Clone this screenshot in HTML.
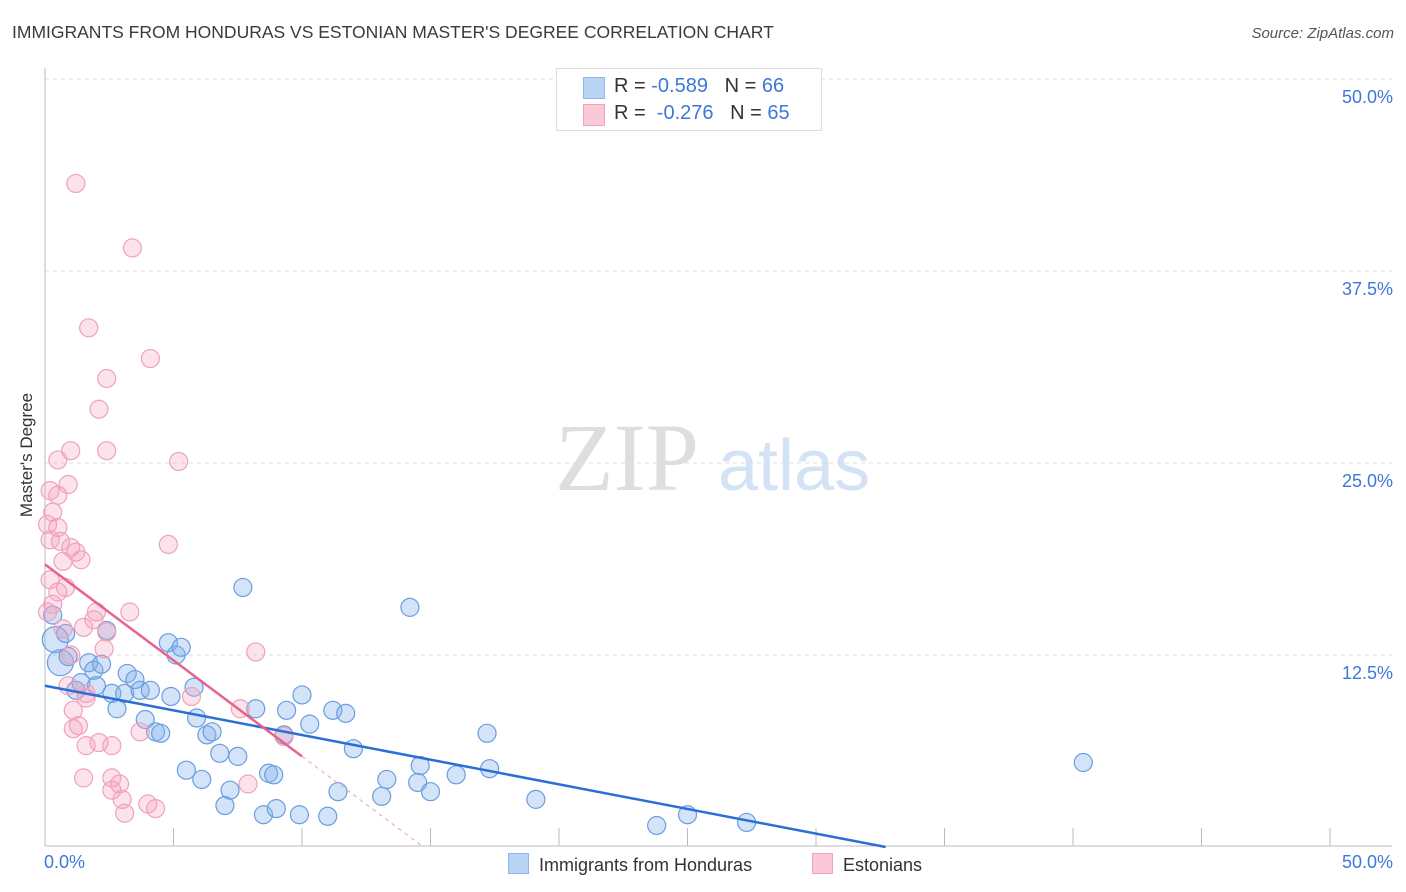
<!DOCTYPE html>
<html><head><meta charset="utf-8">
<style>
body{margin:0;background:#fff;font-family:"Liberation Sans",sans-serif;}
#wrap{position:relative;width:1406px;height:892px;overflow:hidden;}
.t{position:absolute;white-space:nowrap;}
</style></head>
<body>
<div id="wrap">
<div class="t" style="left:12px;top:22px;font-size:17.5px;color:#3a3a3a;">IMMIGRANTS FROM HONDURAS VS ESTONIAN MASTER'S DEGREE CORRELATION CHART</div>
<div class="t" style="right:12px;top:25px;font-size:15px;color:#555;font-style:italic;">Source: ZipAtlas.com</div>
<svg id="svg" width="1406" height="892" style="position:absolute;left:0;top:0"></svg>
<div class="t" style="left:556px;top:68px;width:264px;height:61px;border:1px solid #ddd;background:#fff;">
  <div style="position:absolute;left:26px;top:8px;width:20px;height:20px;background:#b9d3f5;border:1px solid #8fb4e8;"></div>
  <div style="position:absolute;left:26px;top:35px;width:20px;height:20px;background:#fbc8d8;border:1px solid #f0a3bc;"></div>
  <div class="t" style="left:57px;top:6px;font-size:20px;color:#333;">R = <span style="color:#3d78d8">-0.589</span>&nbsp;&nbsp;&nbsp;N = <span style="color:#3d78d8">66</span></div>
  <div class="t" style="left:57px;top:33px;font-size:20px;color:#333;">R = &nbsp;<span style="color:#3d78d8">-0.276</span>&nbsp;&nbsp;&nbsp;N = <span style="color:#3d78d8">65</span></div>
</div>
<div class="t" style="left:27px;top:455px;transform:translate(-50%,-50%) rotate(-90deg);font-size:17px;color:#333;">Master's Degree</div>
<div class="t" style="left:44px;top:852px;font-size:18px;color:#3d78d8;">0.0%</div>
<div class="t" style="right:13px;top:852px;font-size:18px;color:#3d78d8;">50.0%</div>
<div class="t" style="left:508px;top:853px;font-size:18px;color:#333;"><span style="display:inline-block;width:19px;height:19px;background:#b9d3f5;border:1px solid #8fb4e8;vertical-align:-3px;margin-right:10px"></span>Immigrants from Honduras</div>
<div class="t" style="left:812px;top:853px;font-size:18px;color:#333;"><span style="display:inline-block;width:19px;height:19px;background:#fbc8d8;border:1px solid #f0a3bc;vertical-align:-3px;margin-right:10px"></span>Estonians</div>
</div>
<script>
const yTicks=[12.5,25,37.5,50];
const yTickLabels=["12.5%","25.0%","37.5%","50.0%"];
const xTicks=[0,5,10,15,20,25,30,35,40,45,50];
const blueX=[7.7,14.2,40.4,0.4,0.6,0.8,0.9,1.2,1.4,1.7,1.9,2.0,2.2,2.4,2.6,2.8,3.1,3.2,3.5,3.7,3.9,4.1,4.3,4.5,4.8,4.9,5.1,5.3,5.5,5.8,5.9,6.1,6.3,6.5,6.8,7.0,7.2,7.5,8.2,8.5,8.7,8.9,9.0,9.4,9.3,9.9,10.0,10.3,11.0,11.2,11.4,11.7,12.0,13.1,13.3,14.5,14.6,15.0,16.0,17.2,17.3,19.1,23.8,25.0,27.3,0.3];
const blueY=[16.9,15.6,5.5,13.5,12.0,13.9,12.4,10.2,10.7,12.0,11.5,10.5,11.9,14.1,10.0,9.0,10.0,11.3,10.9,10.2,8.3,10.2,7.5,7.4,13.3,9.8,12.5,13.0,5.0,10.4,8.4,4.4,7.3,7.5,6.1,2.7,3.7,5.9,9.0,2.1,4.8,4.7,2.5,8.9,7.3,2.1,9.9,8.0,2.0,8.9,3.6,8.7,6.4,3.3,4.4,4.2,5.3,3.6,4.7,7.4,5.1,3.1,1.4,2.1,1.6,15.1];
const pinkX=[1.2,3.4,1.7,4.1,2.4,2.1,1.0,2.4,5.2,0.5,0.9,0.5,0.2,0.3,0.1,0.5,0.2,0.6,1.0,1.2,1.4,0.7,4.8,0.2,0.5,0.8,0.3,0.1,2.0,3.3,1.9,1.5,0.7,2.4,1.0,2.3,8.2,0.9,1.6,5.7,1.1,1.1,1.3,2.1,1.6,2.6,3.7,7.6,1.5,2.6,2.9,2.6,3.0,4.0,4.3,3.1,7.9,9.3,1.6];
const pinkY=[43.2,39.0,33.8,31.8,30.5,28.5,25.8,25.8,25.1,25.2,23.6,22.9,23.2,21.8,21.0,20.8,20.0,19.9,19.5,19.2,18.7,18.6,19.7,17.4,16.6,16.9,15.8,15.3,15.3,15.3,14.8,14.3,14.2,14.0,12.5,12.9,12.7,10.5,10.0,9.8,8.9,7.7,7.9,6.8,6.6,6.6,7.5,9.0,4.5,4.5,4.1,3.7,3.1,2.8,2.5,2.2,4.1,7.2,9.7];
const bigBlue=[3,4];
const blueTrend=[10.5,-0.321];
const pinkTrend=[18.4,-1.25];
const pinkSolidEnd=10;

const X0=45,X1=1330,Y0=847,Y1=79;
const sx=v=>X0+(X1-X0)*v/50;
const sy=v=>Y0-(Y0-Y1)*v/50;
const svg=document.getElementById('svg');
const NS='http://www.w3.org/2000/svg';
function mk(tag,attrs){const e=document.createElementNS(NS,tag);for(const k in attrs)e.setAttribute(k,attrs[k]);svg.appendChild(e);return e;}

// watermark
let wm=mk('text',{x:555,y:490,'font-size':96,'font-family':'Liberation Serif, serif',fill:'#dedede'});
wm.textContent='ZIP';


let wm2=mk('text',{x:718,y:490,'font-size':72,'font-family':'Liberation Sans, sans-serif',fill:'#d3e2f5'});
wm2.textContent='atlas';



yTicks.forEach((v,i)=>{
  const g=mk('line',{x1:X0,x2:1392,y1:sy(v),y2:sy(v),stroke:'#ddd','stroke-dasharray':'4,4'});
  
  
  const t=mk('text',{x:1393,y:sy(v)+24,'text-anchor':'end','font-size':18,fill:'#3d78d8','font-family':'Liberation Sans, sans-serif'});
  t.textContent=yTickLabels[i];
  
  
});
let ax=mk('line',{x1:X0,x2:X0,y1:68,y2:846,stroke:'#bbb'});


let bx=mk('line',{x1:X0,x2:1392,y1:846,y2:846,stroke:'#bbb'});


xTicks.forEach(v=>{
  const t=mk('line',{x1:sx(v),x2:sx(v),y1:828,y2:846,stroke:'#bbb'});
  
  
});

blueX.forEach((x,i)=>{
  const c=mk('circle',{cx:sx(x),cy:sy(blueY[i]),r:bigBlue.includes(i)?13:9,fill:'rgba(130,175,235,0.35)',stroke:'#6a9de0','stroke-width':1.2});
  
  
});
pinkX.forEach((x,i)=>{
  const c=mk('circle',{cx:sx(x),cy:sy(pinkY[i]),r:9,fill:'rgba(245,160,190,0.3)',stroke:'#eea2bb','stroke-width':1.2});
  
  
});

const bEnd=-blueTrend[0]/blueTrend[1];
let bl=mk('line',{x1:sx(0),y1:sy(blueTrend[0]),x2:sx(bEnd),y2:sy(0),stroke:'#2a6fd6','stroke-width':2.5});


const pEnd=-pinkTrend[0]/pinkTrend[1];
let pl=mk('line',{x1:sx(0),y1:sy(pinkTrend[0]),x2:sx(pinkSolidEnd),y2:sy(pinkTrend[0]+pinkTrend[1]*pinkSolidEnd),stroke:'#e8628e','stroke-width':2.5});


let pd=mk('line',{x1:sx(pinkSolidEnd),y1:sy(pinkTrend[0]+pinkTrend[1]*pinkSolidEnd),x2:sx(pEnd),y2:sy(0),stroke:'#e8a0b5','stroke-width':1,'stroke-dasharray':'4,4'});


</script>
</body></html>
